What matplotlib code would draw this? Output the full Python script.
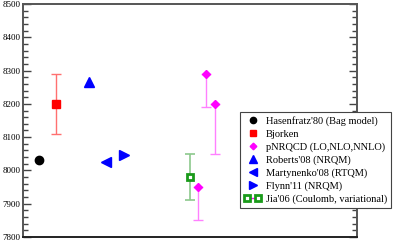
import matplotlib
matplotlib.use('Agg')
import matplotlib.pyplot as plt
from matplotlib.ticker import MultipleLocator
from matplotlib.legend_handler import HandlerLine2D

plt.rcParams['font.family'] = ['Liberation Serif', 'DejaVu Serif']

# 各模型的质量预测 (MeV)
hasen_x, hasen_y = [0.48], [8030]
bjorken_x, bjorken_y, bjorken_err = [0.99], [8200], [90]
pnrqcd_x = [5.24, 5.48, 5.75]
pnrqcd_y = [7950, 8290, 8200]
pnrqcd_err_lo = [100, 100, 150]
roberts_x, roberts_y = [1.98], [8265]
martyn_x, martyn_y = [2.49], [8025]
flynn_x, flynn_y = [3.02], [8045]
jia_x, jia_y, jia_err = [5.0], [7980], [70]

fig = plt.figure(figsize=(3.95, 2.42), dpi=100)
ax = fig.add_axes([23 / 395, 5 / 242, 334 / 395, 233 / 242])

ax.errorbar(bjorken_x, bjorken_y, yerr=bjorken_err, fmt='none', ecolor='#ff7070',
            elinewidth=1, capsize=3.5, capthick=1)
ax.errorbar(jia_x, jia_y, yerr=jia_err, fmt='none', ecolor='#8cc88c',
            elinewidth=1.2, capsize=3.5, capthick=1.2)
ax.errorbar(pnrqcd_x, pnrqcd_y, yerr=[pnrqcd_err_lo, [0, 0, 0]], fmt='none',
            ecolor='#ff80ff', elinewidth=1, capsize=3.5, capthick=1)

ax.plot(hasen_x, hasen_y, 'o', color='black', ms=6, label="Hasenfratz'80 (Bag model)")
ax.plot(bjorken_x, bjorken_y, 's', color='red', ms=5.5, label='Bjorken')
ax.plot(pnrqcd_x, pnrqcd_y, 'D', color='magenta', ms=4.5, ls='none',
        label='pNRQCD (LO,NLO,NNLO)')
ax.plot(roberts_x, roberts_y, '^', color='blue', ms=7, label="Roberts'08 (NRQM)")
ax.plot(martyn_x, martyn_y, '<', color='blue', ms=7, label="Martynenko'08 (RTQM)")
ax.plot(flynn_x, flynn_y, '>', color='blue', ms=7, label="Flynn'11 (NRQM)")
jia_line, = ax.plot(jia_x, jia_y, 's', color='magenta', mfc='white', mec='#1a9a1a',
                    mew=2, ms=5, ls='-', lw=1, label="Jia'06 (Coulomb, variational)")

ax.set_xlim(0, 10)
ax.set_ylim(7800, 8500)
ax.yaxis.set_major_locator(MultipleLocator(100))
ax.yaxis.set_minor_locator(MultipleLocator(20))
ax.set_xticks([])
ax.tick_params(axis='y', which='both', direction='in', left=True, right=True,
               labelsize=6.5, pad=2, color='#444444')
ax.tick_params(axis='y', which='major', length=6, width=1)
ax.tick_params(axis='y', which='minor', length=3.5, width=1)
for s in ax.spines.values():
    s.set_color('#555555')
    s.set_linewidth(1.4)
ax.spines['bottom'].set_color('#222222')

leg = ax.legend(loc='upper left', bbox_to_anchor=(217 / 334, 125 / 233), fontsize=7.5,
                frameon=True, fancybox=False, edgecolor='#444444', framealpha=1,
                handlelength=1.6, handletextpad=0.5, borderpad=0.4, labelspacing=0.33,
                borderaxespad=0, markerscale=0.75,
                handler_map={jia_line: HandlerLine2D(numpoints=2)})
leg.get_frame().set_linewidth(0.8)
leg.set_clip_on(False)

fig.savefig('out.png', dpi=100)
